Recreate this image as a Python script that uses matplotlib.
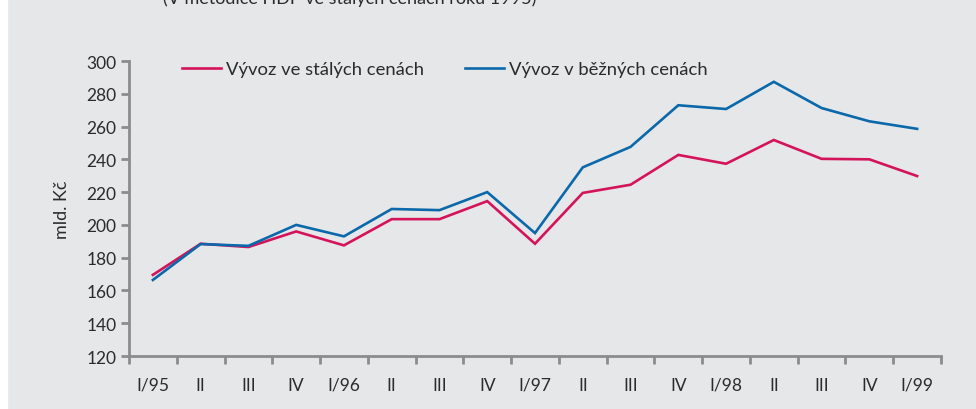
import matplotlib
matplotlib.use("Agg")
import matplotlib.pyplot as plt
from matplotlib.ticker import FixedLocator, NullFormatter

# čtvrtletí 1995–1999
kvartaly = ["I/95", "II", "III", "IV", "I/96", "II", "III", "IV", "I/97",
            "II", "III", "IV", "I/98", "II", "III", "IV", "I/99"]

# vývoz ve stálých cenách (mld. Kč)
vyvoz_stale = [169.5, 188.5, 186.5, 196, 187.5, 203.5, 203.5, 214.5, 188.5,
               219.5, 224.5, 242.7, 237.3, 251.8, 240.3, 240, 229.8]
# vývoz v běžných cenách (mld. Kč)
vyvoz_bezne = [166.4, 188.3, 187.2, 200, 193, 209.7, 209, 220, 195,
               235.1, 247.6, 273, 270.7, 287.3, 271.3, 263.2, 258.6]

nazvy = ["Vývoz ve stálých cenách", "Vývoz v běžných cenách"]
y_ticks = list(range(120, 301, 20))

BG = "#e6e7e9"
RED = "#d4145a"
BLUE = "#0b68aa"
GREY = "#8c8c8c"
TXT = "#2b2b2b"

plt.rcParams["font.family"] = ["Lato", "DejaVu Sans"]

fig = plt.figure(figsize=(9.76, 4.10), dpi=100, facecolor=BG)
# bílý proužek vlevo
fig.patches.append(plt.Rectangle((0, 0), 7 / 976, 1, transform=fig.transFigure,
                                 color="white", zorder=0))
ax = fig.add_axes([129 / 976, 1 - 357 / 410, (941 - 129) / 976, (357 - 62) / 410])
ax.set_facecolor(BG)

x = list(range(len(kvartaly)))
ax.plot(x, vyvoz_stale, color=RED, lw=1.9, label=nazvy[0], solid_joinstyle="miter")
ax.plot(x, vyvoz_bezne, color=BLUE, lw=1.9, label=nazvy[1], solid_joinstyle="miter")

ax.set_xlim(-0.5, len(kvartaly) - 0.5)
ax.set_ylim(120, 300)
ax.set_yticks(y_ticks)

# hranice čtvrtletí jako hlavní ticky, popisky uprostřed
ax.xaxis.set_major_locator(FixedLocator([i - 0.5 for i in range(len(kvartaly) + 1)]))
ax.xaxis.set_major_formatter(NullFormatter())
ax.xaxis.set_minor_locator(FixedLocator(x))
ax.set_xticklabels(kvartaly, minor=True)
ax.tick_params(axis="x", which="major", length=6, width=2, color=GREY)
ax.tick_params(axis="x", which="minor", length=0, pad=15, labelsize=12.5, labelcolor=TXT)
ax.tick_params(axis="y", length=6, width=2, color=GREY, labelsize=12.5, labelcolor=TXT, pad=3)

for s in ["top", "right"]:
    ax.spines[s].set_visible(False)
for s in ["left", "bottom"]:
    ax.spines[s].set_color(GREY)
    ax.spines[s].set_linewidth(2)

ax.set_ylabel("mld. Kč", fontsize=13, color=TXT, labelpad=12)

leg = ax.legend(loc="upper left", bbox_to_anchor=(0.045, 1.055), ncol=2, frameon=False,
                fontsize=13.3, handlelength=2.1, handletextpad=0.25, columnspacing=2.25)
for t in leg.get_texts():
    t.set_color(TXT)

# useknutý nadpis nahoře
fig.text(163 / 976, 1.002, "(V metodice HDP ve stálých cenách roku 1995)",
         fontsize=13, color=TXT, va="center", ha="left")

fig.savefig("out.png", dpi=100, facecolor=BG)
